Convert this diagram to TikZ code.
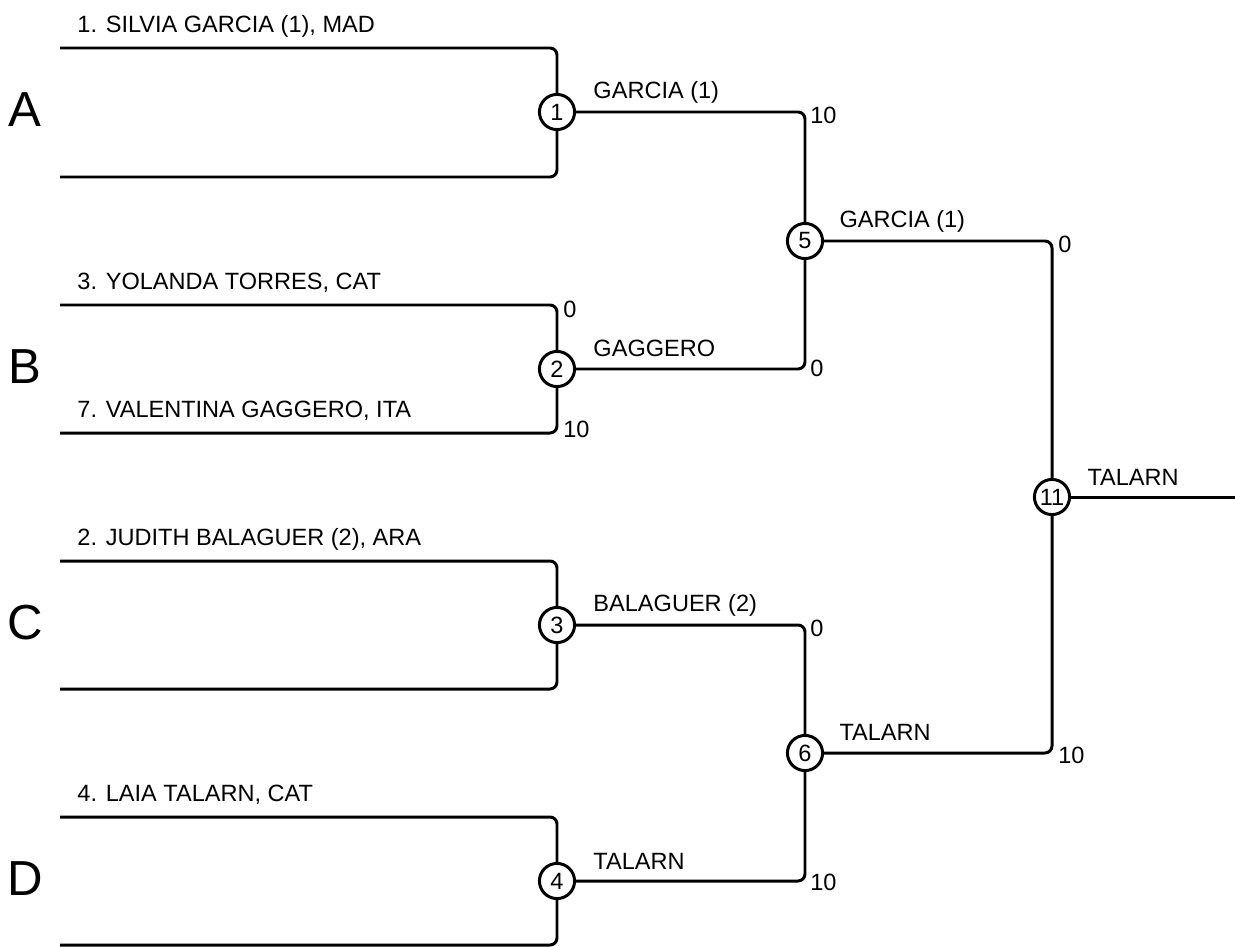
\documentclass[tikz,border=0pt]{standalone}
\usepackage{fontspec}
\setmainfont{Liberation Sans}
\usetikzlibrary{positioning}

\begin{document}
\begin{tikzpicture}[x=0.02cm, y=-0.02cm, line width=1.7pt, font=\fontsize{13.4}{16}\selectfont]
		\tikzset{
			match/.style={circle, draw, fill=white, inner sep=0pt, minimum size=20pt},
			player/.style={anchor=base west, inner sep=0pt},
			winner/.style={anchor=base west, inner sep=0pt},
			score/.style={anchor=west, inner sep=1pt},
			group/.style={inner sep=0pt, font=\fontsize{28}{32}\selectfont},
			bracket/.style={rounded corners=4pt}
		}
		\useasboundingbox (0,0) rectangle (1235,947);
		
		% groups
		\node[group] (ga) at (25,110) {A};
		\node[group] (gb) at (25,367) {B};
		\node[group] (gc) at (25,623) {C};
		\node[group] (gd) at (25,879) {D};
		
		% matches
		\node[match] (m1) at (557,112) {1};
		\node[match] (m2) at (557,369) {2};
		\node[match] (m3) at (557,625) {3};
		\node[match] (m4) at (557,881) {4};
		\node[match] (m5) at (805,241) {5};
		\node[match] (m6) at (805,753) {6};
		\node[match] (m11) at (1052,497) {11};
		
		% first round
		\coordinate (a1) at (60,48);
		\coordinate (a2) at (60,177);
		\coordinate (b1) at (60,305);
		\coordinate (b2) at (60,433);
		\coordinate (c1) at (60,561);
		\coordinate (c2) at (60,689);
		\coordinate (d1) at (60,817);
		\coordinate (d2) at (60,945);
		\draw[bracket] (a1) -| (m1);
		\draw[bracket] (a2) -| (m1);
		\draw[bracket] (b1) -| (m2);
		\draw[bracket] (b2) -| (m2);
		\draw[bracket] (c1) -| (m3);
		\draw[bracket] (c2) -| (m3);
		\draw[bracket] (d1) -| (m4);
		\draw[bracket] (d2) -| (m4);
		
		\node[player] (pa1) at (76,32) {1. SILVIA GARCIA (1), MAD};
		\node[player] (pb1) at (76,289) {3. YOLANDA TORRES, CAT};
		\node[player] (pb2) at (76,417) {7. VALENTINA GAGGERO, ITA};
		\node[player] (pc1) at (76,545) {2. JUDITH BALAGUER (2), ARA};
		\node[player] (pd1) at (76,801) {4. LAIA TALARN, CAT};
		
		\node[score] (sb1) at (560,309) {0};
		\node[score] (sb2) at (560,429) {10};
		
		% second round
		\draw[bracket] (m1) -| (m5);
		\draw[bracket] (m2) -| (m5);
		\draw[bracket] (m3) -| (m6);
		\draw[bracket] (m4) -| (m6);
		
		\node[winner] (w1) at (592,98) {GARCIA (1)};
		\node[winner] (w2) at (592,356) {GAGGERO};
		\node[winner] (w3) at (592,611) {BALAGUER (2)};
		\node[winner] (w4) at (592,869) {TALARN};
		
		\node[score] (s1) at (807,115) {10};
		\node[score] (s2) at (807,368) {0};
		\node[score] (s3) at (807,628) {0};
		\node[score] (s4) at (807,882) {10};
		
		% final
		\draw[bracket] (m5) -| (m11);
		\draw[bracket] (m6) -| (m11);
		\coordinate (out) at (1235,497);
		\draw (m11) -- (out);
		
		\node[winner] (w5) at (838,227) {GARCIA (1)};
		\node[winner] (w6) at (838,740) {TALARN};
		\node[winner] (w11) at (1086,485) {TALARN};
		
		\node[score] (s5) at (1055,244) {0};
		\node[score] (s6) at (1055,755) {10};
		
	\end{tikzpicture}
\end{document}
